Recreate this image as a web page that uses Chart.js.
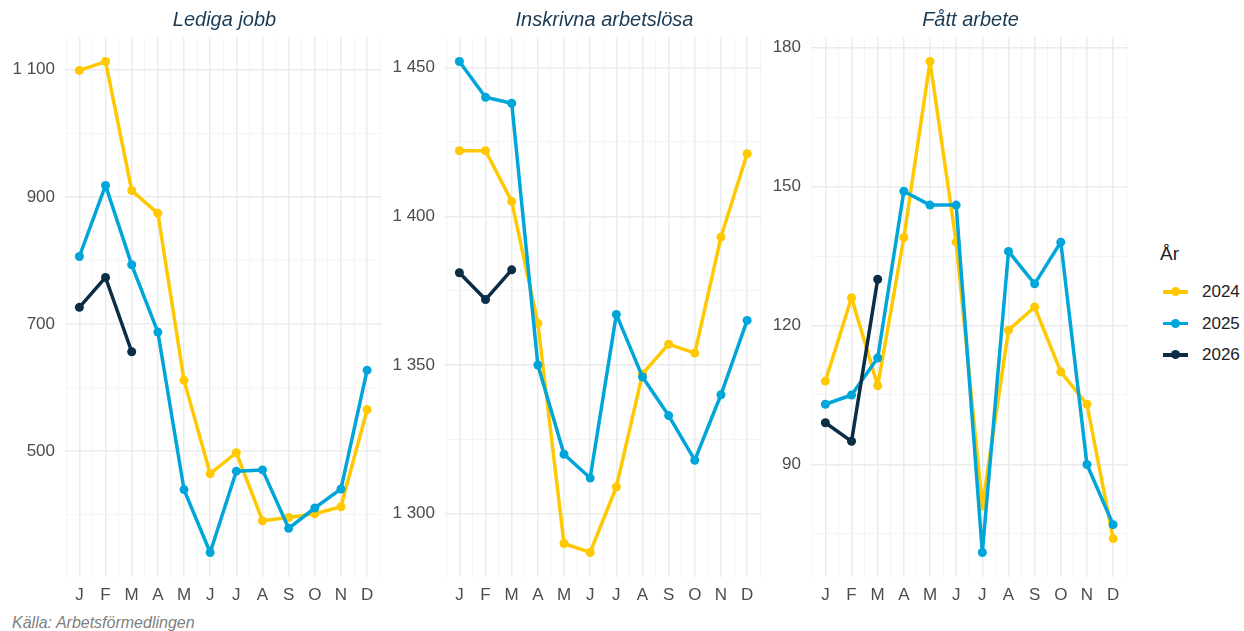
<!DOCTYPE html>
<html>
<head>
<meta charset="utf-8">
<script src="https://cdn.jsdelivr.net/npm/chart.js@4"></script>
<style>
  body { margin: 0; background: #fff; font-family: "Liberation Sans", Arial, sans-serif; }
  #page { position: relative; width: 1244px; height: 631px; overflow: hidden; }
  canvas { position: absolute; top: 0; }
  .panel-title { position: absolute; top: 8px; font-style: italic; font-size: 20px; color: #1b3a54; text-align: center; white-space: nowrap; }
  #caption { position: absolute; left: 12px; top: 614px; font-style: italic; font-size: 16px; color: #7f7f7f; }
  #legend { position: absolute; left: 1160px; top: 243px; color: #222; }
  #legend .head { font-size: 19px; margin-bottom: 17px; }
  #legend .item { position: relative; height: 31.5px; font-size: 17px; }
  #legend .key { position: absolute; left: 3px; top: 8px; width: 25px; height: 3.5px; }
  #legend .dot { position: absolute; left: 8px; top: -3px; width: 9px; height: 9px; border-radius: 50%; }
  #legend .lbl { position: absolute; left: 42px; top: 0; }
</style>
</head>
<body>
<div id="page">
  <canvas id="chart-lediga"></canvas>
  <canvas id="chart-inskrivna"></canvas>
  <canvas id="chart-fatt"></canvas>
  <div id="caption">Källa: Arbetsförmedlingen</div>
  <div id="legend"></div>
</div>
<script>
// Data
const months = ["J", "F", "M", "A", "M", "J", "J", "A", "S", "O", "N", "D"];
const years = ["2024", "2025", "2026"];
const yearColors = ["#FFC800", "#00A6D9", "#0B2D45"];

const ledigaJobb2024 = [1099, 1113, 910, 874, 611, 464, 497, 390, 395, 401, 412, 565];
const ledigaJobb2025 = [806, 918, 793, 687, 439, 340, 468, 470, 378, 410, 440, 627];
const ledigaJobb2026 = [726, 773, 656];

const inskrivna2024 = [1422, 1422, 1405, 1364, 1290, 1287, 1309, 1347, 1357, 1354, 1393, 1421];
const inskrivna2025 = [1452, 1440, 1438, 1350, 1320, 1312, 1367, 1346, 1333, 1318, 1340, 1365];
const inskrivna2026 = [1381, 1372, 1382];

const fattArbete2024 = [108, 126, 107, 139, 177, 138, 81, 119, 124, 110, 103, 74];
const fattArbete2025 = [103, 105, 113, 149, 146, 146, 71, 136, 129, 138, 90, 77];
const fattArbete2026 = [99, 95, 130];

// y tick labels (major) and minor grid values per panel
const ledigaTicks = [500, 700, 900, 1100];
const ledigaMinor = [400, 600, 800, 1000];
const inskrivnaTicks = [1300, 1350, 1400, 1450];
const inskrivnaMinor = [1325, 1375, 1425];
const fattTicks = [90, 120, 150, 180];
const fattMinor = [75, 105, 135, 165];

const panels = [
  { id: "chart-lediga", title: "Lediga jobb", left: 65, right: 384,
    series: [ledigaJobb2024, ledigaJobb2025, ledigaJobb2026], ticks: ledigaTicks, minor: ledigaMinor },
  { id: "chart-inskrivna", title: "Inskrivna arbetslösa", left: 445, right: 764,
    series: [inskrivna2024, inskrivna2025, inskrivna2026], ticks: inskrivnaTicks, minor: inskrivnaMinor },
  { id: "chart-fatt", title: "Fått arbete", left: 811, right: 1130,
    series: [fattArbete2024, fattArbete2025, fattArbete2026], ticks: fattTicks, minor: fattMinor },
];

const AXIS_W = 60;
const CANVAS_H = 610;
const PLOT_TOP = 37;
const tickFont = { family: "Liberation Sans", size: 17 };
const tickColor = "#4d4d4d";

function fmt(v) {
  return String(v).replace(/\B(?=(\d{3})+(?!\d))/g, " ");
}

function buildPanel(p) {
  const canvas = document.getElementById(p.id);
  const width = p.right - p.left + AXIS_W + 2;
  canvas.width = width;
  canvas.height = CANVAS_H;
  canvas.style.left = (p.left - AXIS_W) + "px";

  // ggplot style 5% expansion around the data
  const all = p.series.flat();
  const lo = Math.min(...all);
  const hi = Math.max(...all);
  const pad = (hi - lo) * 0.05;

  const xTickValues = [];
  for (let v = 0.5; v <= 12.5; v += 0.5) xTickValues.push(v);
  const yTickValues = p.ticks.concat(p.minor).sort((a, b) => a - b);

  new Chart(canvas.getContext("2d"), {
    type: "line",
    data: {
      datasets: p.series.map((vals, i) => ({
        label: years[i],
        data: vals.map((v, j) => ({ x: j + 1, y: v })),
        borderColor: yearColors[i],
        backgroundColor: yearColors[i],
        borderWidth: 3.5,
        pointRadius: 4.5,
        pointHoverRadius: 4.5,
        pointBorderWidth: 0,
        borderJoinStyle: "round",
        borderCapStyle: "round",
        tension: 0,
        order: 2 - i,
      })),
    },
    options: {
      responsive: false,
      animation: false,
      layout: { padding: { top: PLOT_TOP, right: 0, bottom: 0, left: 0 } },
      plugins: { legend: { display: false }, tooltip: { enabled: false } },
      scales: {
        x: {
          type: "linear",
          min: 0.45,
          max: 12.55,
          afterBuildTicks: (scale) => { scale.ticks = xTickValues.map((v) => ({ value: v })); },
          afterFit: (scale) => {
            scale.height = CANVAS_H - 577;
            scale.paddingLeft = 0;
            scale.paddingRight = 0;
          },
          border: { display: false },
          grid: {
            drawTicks: false,
            color: (ctx) => Number.isInteger(ctx.tick.value) ? "#ebebeb" : "#f3f3f3",
            lineWidth: (ctx) => Number.isInteger(ctx.tick.value) ? 1.5 : 0.8,
          },
          ticks: {
            autoSkip: false,
            maxRotation: 0,
            padding: 8,
            color: tickColor,
            font: tickFont,
            callback: (v) => Number.isInteger(v) ? months[v - 1] : "",
          },
        },
        y: {
          min: lo - pad,
          max: hi + pad,
          afterBuildTicks: (scale) => { scale.ticks = yTickValues.map((v) => ({ value: v })); },
          afterFit: (scale) => {
            scale.width = AXIS_W;
            scale.paddingTop = 0;
            scale.paddingBottom = 0;
          },
          border: { display: false },
          grid: {
            drawTicks: false,
            color: (ctx) => p.ticks.includes(ctx.tick.value) ? "#ebebeb" : "#f3f3f3",
            lineWidth: (ctx) => p.ticks.includes(ctx.tick.value) ? 1.5 : 0.8,
          },
          ticks: {
            padding: 10,
            color: tickColor,
            font: tickFont,
            callback: (v) => p.ticks.includes(v) ? fmt(v) : "",
          },
        },
      },
    },
  });

  const t = document.createElement("div");
  t.className = "panel-title";
  t.textContent = p.title;
  t.style.left = p.left + "px";
  t.style.width = (p.right - p.left) + "px";
  document.getElementById("page").appendChild(t);
}

panels.forEach(buildPanel);

// Legend
const legend = document.getElementById("legend");
legend.innerHTML = '<div class="head">År</div>' + years.map((y, i) => `
  <div class="item">
    <div class="key" style="background:${yearColors[i]}"><div class="dot" style="background:${yearColors[i]}"></div></div>
    <div class="lbl">${y}</div>
  </div>`).join("");
</script>
</body>
</html>
